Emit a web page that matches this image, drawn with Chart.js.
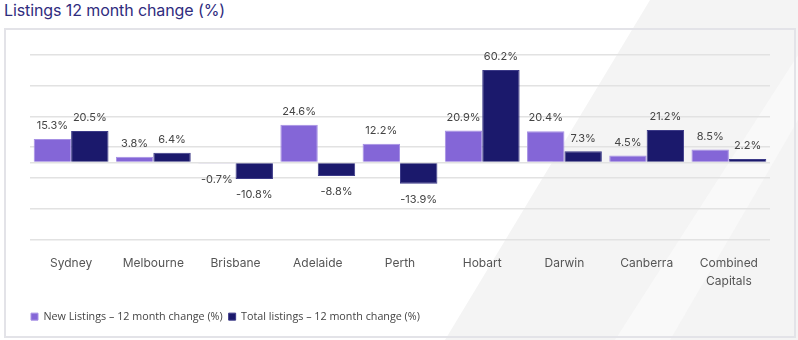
<!DOCTYPE html>
<html>
<head>
<meta charset="utf-8">
<script src="https://cdn.jsdelivr.net/npm/chart.js@4"></script>
<style>
  html, body { margin: 0; padding: 0; }
  body { width: 798px; height: 340px; position: relative; overflow: hidden; background: #fff; }
  .shade { position: absolute; inset: 0; background: #f4f4f4; clip-path: polygon(650px 0, 798px 0, 798px 340px, 445px 340px); }
  .streak { position: absolute; inset: 0; background: #f9f9f9; clip-path: polygon(798px 55px, 798px 120px, 670px 340px, 615px 340px); }
  .title { position: absolute; left: 4px; top: 0; font: 16px "Inter", sans-serif; line-height: 20px; color: #2f2c7e; letter-spacing: -0.1px; }
  .frame { position: absolute; left: 4px; top: 28px; width: 792px; height: 310px; box-sizing: border-box; border: 2px solid #e3e3e8; }
  #chart { position: absolute; left: 0; top: 0; }
</style>
</head>
<body>
<div class="shade"></div>
<div class="streak"></div>
<div class="title">Listings 12 month change (%)</div>
<div class="frame"></div>
<canvas id="chart" width="798" height="340"></canvas>
<script>
const cities = ["Sydney", "Melbourne", "Brisbane", "Adelaide", "Perth", "Hobart", "Darwin", "Canberra", ["Combined", "Capitals"]];
const newListings = [15.3, 3.8, -0.7, 24.6, 12.2, 20.9, 20.4, 4.5, 8.5];
const totalListings = [20.5, 6.4, -10.8, -8.8, -13.9, 60.2, 7.3, 21.2, 2.2];
const gridTicks = [-50, -30, -10, 0, 10, 30, 50, 70];

// percentage labels above positive bars, below negative ones
const valueLabels = {
  id: "valueLabels",
  afterDatasetsDraw(chart) {
    const ctx = chart.ctx;
    ctx.save();
    ctx.font = "11px Inter, sans-serif";
    ctx.fillStyle = "#444";
    ctx.textAlign = "center";
    ctx.textBaseline = "middle";
    chart.data.datasets.forEach((ds, i) => {
      chart.getDatasetMeta(i).data.forEach((bar, j) => {
        const v = ds.data[j];
        const y = v >= 0 ? bar.y - 13 : bar.y + 16;
        ctx.fillText(v.toFixed(1) + "%", bar.x, y);
      });
    });
    ctx.restore();
  },
};

new Chart(document.getElementById("chart"), {
  type: "bar",
  data: {
    labels: cities,
    datasets: [
      {
        label: "New Listings – 12 month change (%)",
        data: newListings,
        backgroundColor: "#8466d7",
        borderColor: "#a690e4",
        borderWidth: 1,
      },
      {
        label: "Total listings – 12 month change (%)",
        data: totalListings,
        backgroundColor: "#1b196c",
        borderColor: "#3c3a88",
        borderWidth: 1,
      },
    ],
  },
  plugins: [valueLabels],
  options: {
    responsive: false,
    animation: false,
    layout: { padding: { left: 25, right: 28, top: 55, bottom: 8 } },
    datasets: { bar: { categoryPercentage: 0.91, barPercentage: 1 } },
    plugins: {
      legend: {
        position: "bottom",
        align: "start",
        labels: {
          boxWidth: 7,
          boxHeight: 7,
          padding: 6,
          color: "#444",
          font: { family: "'Open Sans', sans-serif", size: 10.75 },
        },
      },
      tooltip: { enabled: false },
    },
    scales: {
      x: {
        grid: { display: false, drawTicks: false },
        border: { display: false },
        ticks: {
          color: "#555",
          padding: 15,
          maxRotation: 0,
          font: { family: "Inter, sans-serif", size: 12, lineHeight: 1.5 },
        },
      },
      y: {
        min: -50,
        max: 70,
        afterBuildTicks: (scale) => {
          scale.ticks = gridTicks.map((v) => ({ value: v }));
        },
        afterFit: (scale) => {
          scale.width = 5;
        },
        grid: { color: "#e2e2e2", lineWidth: 1.5, drawTicks: false },
        border: { display: false },
        ticks: { display: false },
      },
    },
  },
});
</script>
</body>
</html>
